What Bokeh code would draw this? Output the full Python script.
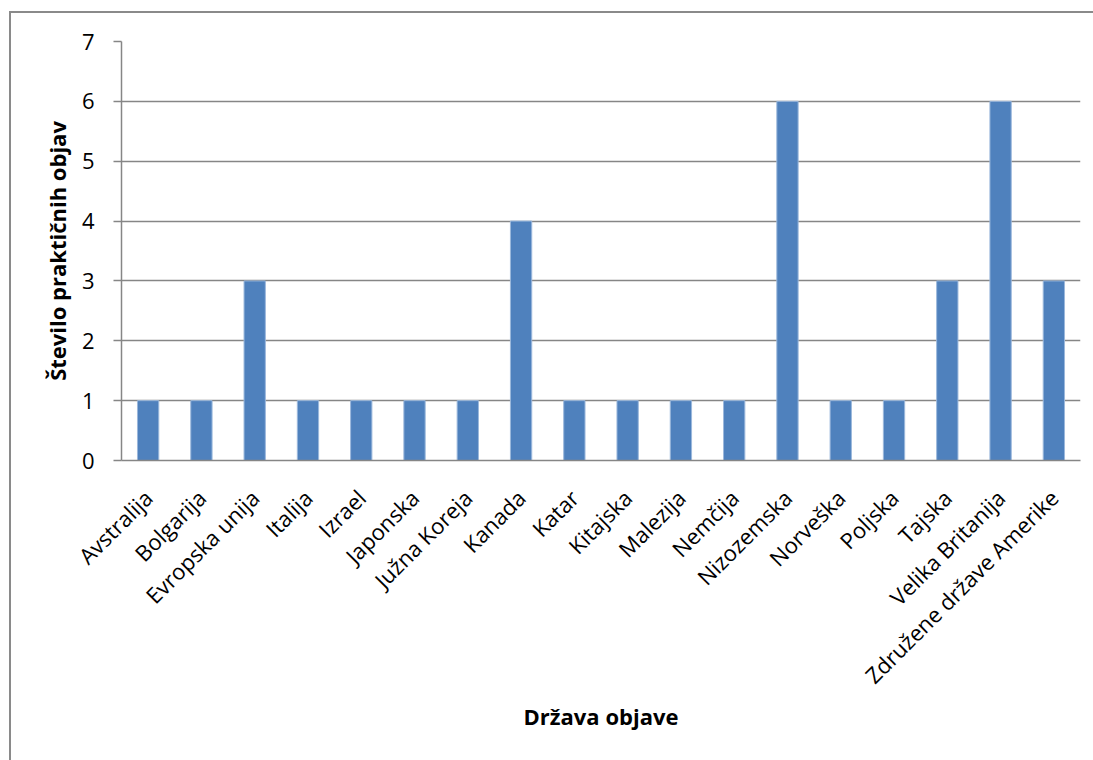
import math
from bokeh.plotting import figure
from bokeh.models import ColumnDataSource, Range1d, FixedTicker
from bokeh.embed import file_html
from bokeh.resources import INLINE

countries = [
    "Avstralija", "Bolgarija", "Evropska unija", "Italija", "Izrael",
    "Japonska", "Južna Koreja", "Kanada", "Katar", "Kitajska", "Malezija",
    "Nemčija", "Nizozemska", "Norveška", "Poljska", "Tajska",
    "Velika Britanija", "Združene države Amerike",
]
counts = [1, 1, 3, 1, 1, 1, 1, 4, 1, 1, 1, 1, 6, 1, 1, 3, 6, 3]
y_ticks = [0, 1, 2, 3, 4, 5, 6, 7]

FONT = "Open Sans"
GRID = "#868686"
BAR = "#4F81BD"

source = ColumnDataSource(data=dict(country=countries, count=counts))

p = figure(
    x_range=countries,
    y_range=Range1d(0, 7),
    width=1084, height=749,
    output_backend="svg",
    toolbar_location=None,
    min_border_left=110, min_border_right=15,
    min_border_top=28, min_border_bottom=302,
    margin=(11, 0, 0, 9),
    styles={"border-left": "2px solid #8a8a8a", "border-top": "2px solid #8a8a8a",
            "box-sizing": "border-box"},
)
p.outline_line_color = None
p.x_range.range_padding = 0

p.vbar(x="country", top="count", width=0.4, source=source,
       fill_color=BAR, line_color="#9bb8dc", line_width=1)

# y axis: fixed integer ticks with short outward tick marks
p.yaxis.ticker = FixedTicker(ticks=y_ticks)
p.yaxis.axis_line_color = GRID
p.yaxis.axis_line_width = 1.5
p.yaxis.major_tick_line_color = GRID
p.yaxis.major_tick_line_width = 1.5
p.yaxis.major_tick_out = 8
p.yaxis.major_tick_in = 0
p.yaxis.minor_tick_line_color = None
p.yaxis.major_label_text_font = FONT
p.yaxis.major_label_text_font_size = "22px"
p.yaxis.major_label_text_color = "black"
p.yaxis.major_label_standoff = 19
p.yaxis.axis_label = "Število praktičnih objav"
p.yaxis.axis_label_text_font = FONT
p.yaxis.axis_label_text_font_size = "22px"
p.yaxis.axis_label_text_font_style = "bold"
p.yaxis.axis_label_text_color = "black"
p.yaxis.axis_label_standoff = 7

# x axis: rotated country names
p.xaxis.axis_line_color = GRID
p.xaxis.axis_line_width = 1.5
p.xaxis.major_tick_line_color = None
p.xaxis.minor_tick_line_color = None
p.xaxis.major_label_orientation = math.pi / 4
p.xaxis.major_label_text_font = FONT
p.xaxis.major_label_text_font_size = "22px"
p.xaxis.major_label_text_color = "black"
p.xaxis.major_label_standoff = 27
p.xaxis.axis_label = "Država objave"
p.xaxis.axis_label_text_font = FONT
p.xaxis.axis_label_text_font_size = "22px"
p.xaxis.axis_label_text_font_style = "bold"
p.xaxis.axis_label_text_color = "black"
p.xaxis.axis_label_standoff = -2

p.xgrid.grid_line_color = None
p.ygrid.grid_line_color = GRID
p.ygrid.grid_line_width = 1.5

open("out.html", "w").write(file_html(p, INLINE))
